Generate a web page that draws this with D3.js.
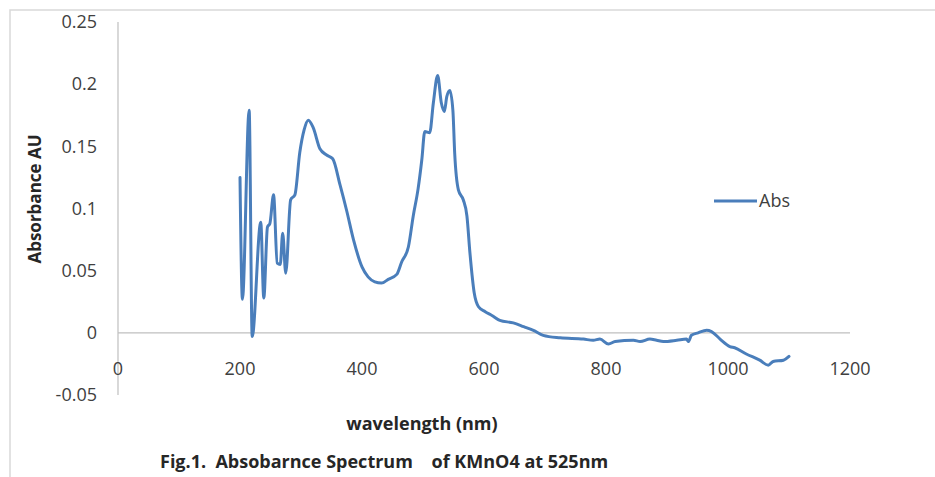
<!DOCTYPE html>
<html>
<head>
<meta charset="utf-8">
<script src="https://cdn.jsdelivr.net/npm/d3@7"></script>
<style>
  body { margin: 0; background: #fff; }
  svg { display: block; font-family: "Open Sans", Lato, sans-serif; }
</style>
</head>
<body>
<svg id="chart" width="935" height="477"></svg>
<script>
// wavelength (nm) and absorbance
const wavelength = [200, 204, 215, 220, 234, 239, 245, 249, 255, 261, 266, 270, 275, 283, 290, 298, 305, 312, 320, 331, 342, 352, 364, 375, 386, 400, 410, 421, 432, 443, 457, 465, 476, 484, 492, 498, 503, 511, 517, 524, 530, 535, 539, 544, 549, 552, 558, 566, 572, 577, 584, 591, 602, 613, 626, 648, 665, 681, 697, 725, 763, 779, 790, 804, 815, 845, 856, 872, 883, 894, 916, 932, 935, 940, 951, 965, 973, 987, 1003, 1011, 1030, 1052, 1066, 1074, 1091, 1100];
const absorbance = [0.125, 0.027, 0.179, -0.003, 0.089, 0.028, 0.085, 0.088, 0.111, 0.056, 0.055, 0.080, 0.048, 0.107, 0.111, 0.145, 0.163, 0.171, 0.165, 0.148, 0.143, 0.140, 0.119, 0.098, 0.075, 0.053, 0.045, 0.041, 0.040, 0.043, 0.047, 0.057, 0.069, 0.094, 0.116, 0.139, 0.162, 0.161, 0.185, 0.207, 0.185, 0.178, 0.190, 0.195, 0.179, 0.144, 0.115, 0.107, 0.094, 0.064, 0.032, 0.021, 0.017, 0.014, 0.010, 0.008, 0.005, 0.002, -0.002, -0.004, -0.005, -0.006, -0.005, -0.009, -0.007, -0.006, -0.007, -0.005, -0.006, -0.007, -0.006, -0.005, -0.007, -0.002, 0.000, 0.002, 0.001, -0.005, -0.011, -0.012, -0.017, -0.022, -0.026, -0.023, -0.022, -0.019];
const xTicks = [0, 200, 400, 600, 800, 1000, 1200];
const yTicks = [-0.05, 0, 0.05, 0.1, 0.15, 0.2, 0.25];
const seriesName = "Abs";

const svg = d3.select("#chart");
const blue = "#4a7ebb";

// outer chart frame (only left and top edges visible)
svg.append("path")
  .attr("d", "M10,477V10H935")
  .attr("fill", "none")
  .attr("stroke", "#d9d9d9")
  .attr("stroke-width", 1.5);

const x = d3.scaleLinear().domain([0, 1200]).range([118, 850]);
const y = d3.scaleLinear().domain([-0.05, 0.25]).range([395, 22]);

// y axis line
svg.append("line")
  .attr("x1", x(0)).attr("x2", x(0))
  .attr("y1", y(0.25)).attr("y2", y(-0.05))
  .attr("stroke", "#bfbfbf").attr("stroke-width", 1.2);

// x axis line at zero
svg.append("line")
  .attr("x1", x(0)).attr("x2", x(1200))
  .attr("y1", y(0)).attr("y2", y(0))
  .attr("stroke", "#bfbfbf").attr("stroke-width", 1.2);

// y tick labels (plain hyphen for negatives, like the original)
svg.selectAll(".ylab")
  .data(yTicks)
  .enter()
  .append("text")
  .attr("class", "ylab")
  .attr("x", 97)
  .attr("y", d => y(d))
  .attr("dy", "0.35em")
  .attr("text-anchor", "end")
  .attr("font-size", 18)
  .attr("fill", "#404040")
  .text(d => String(+d.toFixed(2)));

// x tick labels
svg.selectAll(".xlab")
  .data(xTicks)
  .enter()
  .append("text")
  .attr("class", "xlab")
  .attr("x", d => x(d))
  .attr("y", 369)
  .attr("dy", "0.35em")
  .attr("text-anchor", "middle")
  .attr("font-size", 18)
  .attr("fill", "#404040")
  .text(d => d);

// data line
const line = d3.line()
  .x((d, i) => x(wavelength[i]))
  .y(d => y(d))
  .curve(d3.curveMonotoneX);

svg.append("path")
  .datum(absorbance)
  .attr("d", line)
  .attr("fill", "none")
  .attr("stroke", blue)
  .attr("stroke-width", 3)
  .attr("stroke-linejoin", "round")
  .attr("stroke-linecap", "round");

// legend
svg.append("line")
  .attr("x1", 714).attr("x2", 757)
  .attr("y1", 201).attr("y2", 201)
  .attr("stroke", blue).attr("stroke-width", 3);
svg.append("text")
  .attr("x", 759).attr("y", 201)
  .attr("dy", "0.35em")
  .attr("font-size", 18)
  .attr("fill", "#404040")
  .text(seriesName);

// axis titles
svg.append("text")
  .attr("transform", "translate(35,199) rotate(-90)")
  .attr("text-anchor", "middle")
  .attr("dy", "0.35em")
  .attr("font-size", 17)
  .attr("font-weight", "bold")
  .attr("fill", "#262626")
  .text("Absorbance AU");

svg.append("text")
  .attr("x", 422).attr("y", 424)
  .attr("dy", "0.35em")
  .attr("text-anchor", "middle")
  .attr("font-size", 18)
  .attr("font-weight", "bold")
  .attr("fill", "#262626")
  .text("wavelength (nm)");

// caption
svg.append("text")
  .attr("x", 160).attr("y", 462)
  .attr("dy", "0.35em")
  .attr("font-size", 18)
  .attr("font-weight", "bold")
  .attr("fill", "#262626")
  .style("white-space", "pre")
  .text("Fig.1.  Absobarnce Spectrum    of KMnO4 at 525nm");
</script>
</body>
</html>
